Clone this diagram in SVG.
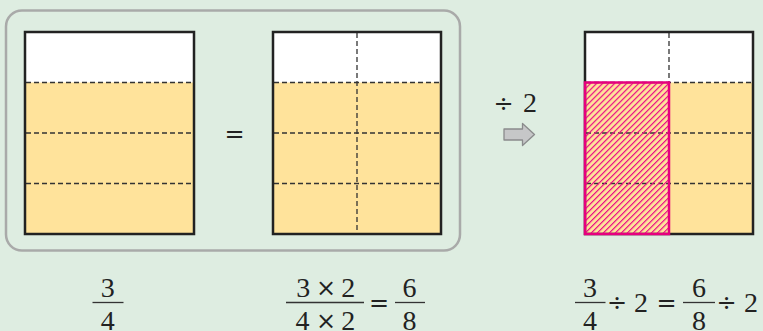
<svg xmlns="http://www.w3.org/2000/svg" width="763" height="331" viewBox="0 0 763 331">
<style>
.bg{fill:#deede1}
.frame{fill:none;stroke:#a9aaa9;stroke-width:2.5}
.box{fill:#ffe39b;stroke:none}
.top{fill:#ffffff}
.edge{fill:none;stroke:#222;stroke-width:2.5}
.dash{stroke:#333;stroke-width:1.3;stroke-dasharray:5 3;fill:none}
.num{font-size:28px;fill:#222;text-anchor:middle}
.op{font-size:24px;fill:#222;text-anchor:middle}
.bar{stroke:#333;stroke-width:1.3}
</style>
<defs>
<pattern id="hatch" patternUnits="userSpaceOnUse" width="4.25" height="4.25" patternTransform="rotate(45)">
<line x1="0.6" y1="0" x2="0.6" y2="4.25" stroke="#ea0f86" stroke-width="1.2"/>
</pattern>
</defs>
<rect class="bg" x="0" y="0" width="763" height="331"/>
<rect class="frame" x="6" y="10.5" width="454" height="240" rx="16"/>

<g id="square1">
<rect class="box" x="25" y="32" width="169" height="202"/>
<rect class="top" x="25" y="32" width="169" height="50.5"/>
<line class="dash" x1="26" y1="82.5" x2="193" y2="82.5"/>
<line class="dash" x1="26" y1="133" x2="193" y2="133"/>
<line class="dash" x1="26" y1="183.5" x2="193" y2="183.5"/>
<rect class="edge" x="25" y="32" width="169" height="202"/>
</g>

<g id="equals-mid" font-family="DejaVu Serif, serif">
<text class="op" x="234.5" y="142">=</text>
</g>

<g id="square2">
<rect class="box" x="273" y="32" width="168" height="202"/>
<rect class="top" x="273" y="32" width="168" height="50.5"/>
<line class="dash" x1="274" y1="82.5" x2="440" y2="82.5"/>
<line class="dash" x1="274" y1="133" x2="440" y2="133"/>
<line class="dash" x1="274" y1="183.5" x2="440" y2="183.5"/>
<line class="dash" x1="357" y1="33" x2="357" y2="233"/>
<rect class="edge" x="273" y="32" width="168" height="202"/>
</g>

<g id="divide-arrow">
<text class="op" x="503.5" y="112" font-family="DejaVu Serif, serif">÷</text>
<text class="num" x="530" y="112" font-family="Liberation Serif, serif">2</text>
<path d="M504,129 H522.5 V123.5 L534.5,134.5 L522.5,145.5 V140 H504 Z" fill="#c6c7c8" stroke="#8a8b8c" stroke-width="1.3" stroke-linejoin="round"/>
</g>

<g id="square3">
<rect class="box" x="585" y="32" width="168" height="202"/>
<rect class="top" x="585" y="32" width="168" height="50.5"/>
<line class="dash" x1="586" y1="82.5" x2="752" y2="82.5"/>
<line class="dash" x1="586" y1="133" x2="752" y2="133"/>
<line class="dash" x1="586" y1="183.5" x2="752" y2="183.5"/>
<line class="dash" x1="669" y1="33" x2="669" y2="82"/>
<rect class="edge" x="585" y="32" width="168" height="202"/>
<rect x="585" y="82.5" width="84" height="151.5" fill="url(#hatch)" stroke="#e6007e" stroke-width="2.5"/>
</g>

<g id="frac1" font-family="Liberation Serif, serif">
<text class="num" x="107.7" y="297">3</text>
<line class="bar" x1="92.5" y1="302.5" x2="123.5" y2="302.5"/>
<text class="num" x="107.7" y="330">4</text>
</g>

<g id="frac2" font-family="Liberation Serif, serif">
<text class="num" x="303.3" y="297">3</text>
<text class="op" x="326" y="296" font-family="DejaVu Serif, serif">×</text>
<text class="num" x="348.3" y="297">2</text>
<line class="bar" x1="286" y1="302.5" x2="364" y2="302.5"/>
<text class="num" x="302.5" y="330">4</text>
<text class="op" x="326" y="329" font-family="DejaVu Serif, serif">×</text>
<text class="num" x="348.3" y="330">2</text>
<text class="op" x="379" y="311" font-family="DejaVu Serif, serif">=</text>
<text class="num" x="409.5" y="297">6</text>
<line class="bar" x1="395" y1="302.5" x2="425" y2="302.5"/>
<text class="num" x="409.5" y="330">8</text>
</g>

<g id="frac3" font-family="Liberation Serif, serif">
<text class="num" x="590" y="297">3</text>
<line class="bar" x1="575" y1="302.5" x2="605.5" y2="302.5"/>
<text class="num" x="590" y="330">4</text>
<text class="op" x="617" y="311" font-family="DejaVu Serif, serif">÷</text>
<text class="num" x="641" y="312">2</text>
<text class="op" x="666.5" y="311" font-family="DejaVu Serif, serif">=</text>
<text class="num" x="699" y="297">6</text>
<line class="bar" x1="683" y1="302.5" x2="715" y2="302.5"/>
<text class="num" x="699" y="330">8</text>
<text class="op" x="726.5" y="311" font-family="DejaVu Serif, serif">÷</text>
<text class="num" x="751" y="312">2</text>
</g>
</svg>
